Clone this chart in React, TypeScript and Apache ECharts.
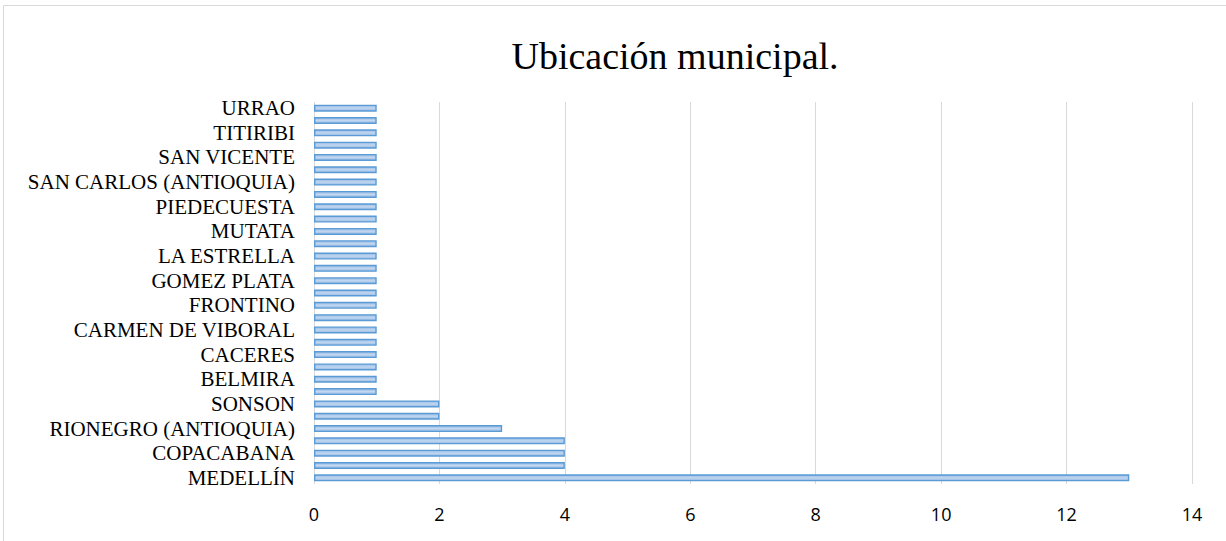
import React, { useEffect, useRef } from "react";
import * as echarts from "echarts";

const titleText = "Ubicación municipal.";

// bottom to top
const categories = [
  "MEDELLÍN",
  "BELLO",
  "COPACABANA",
  "ENVIGADO",
  "RIONEGRO (ANTIOQUIA)",
  "MARINILLA",
  "SONSON",
  "AMAGA",
  "BELMIRA",
  "BETULIA",
  "CACERES",
  "CALDAS",
  "CARMEN DE VIBORAL",
  "DONMATIAS",
  "FRONTINO",
  "GIRARDOTA",
  "GOMEZ PLATA",
  "ITAGUI",
  "LA ESTRELLA",
  "MONTEBELLO",
  "MUTATA",
  "NECHI",
  "PIEDECUESTA",
  "SABANETA",
  "SAN CARLOS (ANTIOQUIA)",
  "SAN PEDRO",
  "SAN VICENTE",
  "SANTA FE DE ANTIOQUIA",
  "TITIRIBI",
  "TURBO",
  "URRAO",
];

const counts = [13, 4, 4, 4, 3, 2, 2, 1, 1, 1, 1, 1, 1, 1, 1, 1, 1, 1, 1, 1, 1, 1, 1, 1, 1, 1, 1, 1, 1, 1, 1];

const xTicks = [0, 2, 4, 6, 8, 10, 12, 14];

export default function App() {
  const ref = useRef<HTMLDivElement>(null);
  useEffect(() => {
    if (!ref.current) return;
    const chart = echarts.init(ref.current, undefined, { renderer: "svg" });
    chart.setOption({
      animation: false,
      backgroundColor: "#ffffff",
      graphic: [
        {
          type: "rect",
          shape: { x: 3.5, y: 5.5, width: 1240, height: 560 },
          style: { fill: "none", stroke: "#d9d9d9", lineWidth: 1 },
          silent: true,
        },
        {
          type: "text",
          x: 675,
          y: 56,
          style: {
            text: titleText,
            font: "38px 'Liberation Serif', 'Times New Roman', serif",
            fill: "#000000",
            textAlign: "center",
            textVerticalAlign: "middle",
          },
        },
      ],
      grid: { left: 314, right: 34, top: 102, bottom: 57, containLabel: false },
      xAxis: {
        type: "value",
        min: xTicks[0],
        max: xTicks[xTicks.length - 1],
        interval: 2,
        axisLine: { show: false },
        axisTick: { show: false },
        splitLine: { show: true, lineStyle: { color: "#d9d9d9", width: 1 } },
        axisLabel: {
          color: "#000000",
          fontFamily: "'Open Sans', 'Liberation Sans', sans-serif",
          fontSize: 18,
          margin: 21,
        },
      },
      yAxis: {
        type: "category",
        data: categories,
        axisLine: { show: false },
        axisTick: { show: false },
        splitLine: { show: false },
        axisLabel: {
          interval: 1,
          color: "#000000",
          fontFamily: "'Liberation Serif', 'Times New Roman', serif",
          fontSize: 21,
          margin: 19,
        },
      },
      series: [
        {
          type: "bar",
          data: counts,
          barWidth: 7,
          itemStyle: {
            color: new echarts.graphic.LinearGradient(0, 0, 0, 1, [
              { offset: 0, color: "#92b8e4" },
              { offset: 0.5, color: "#c2d7f0" },
              { offset: 1, color: "#92b8e4" },
            ]),
            borderColor: "#5b9bd5",
            borderWidth: 1.4,
          },
        },
      ],
    });
    return () => chart.dispose();
  }, []);
  return (
    <div
      ref={ref}
      style={{ position: "absolute", left: 0, top: 0, width: 1226, height: 541 }}
    />
  );
}
